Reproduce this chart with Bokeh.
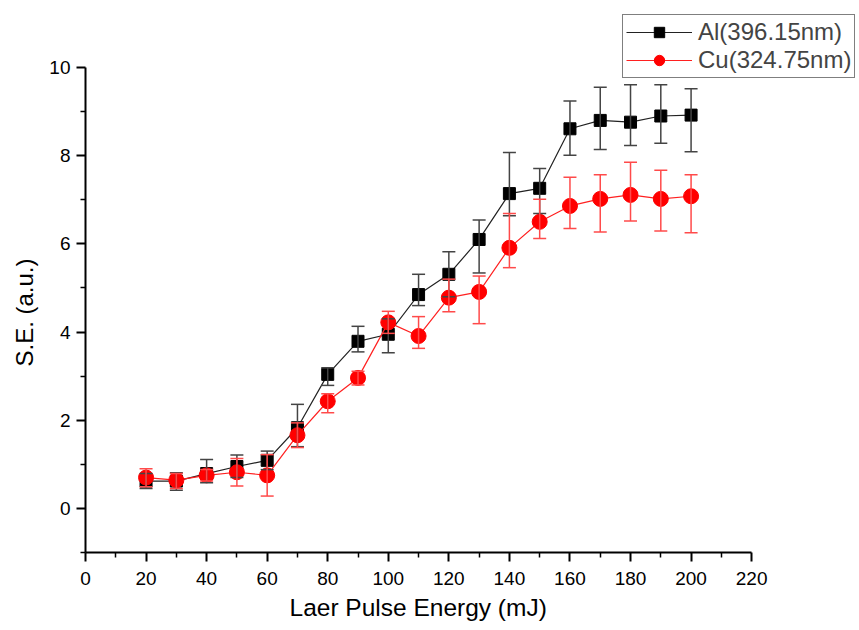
from bokeh.plotting import figure
from bokeh.models import (ColumnDataSource, Range1d, FixedTicker, Whisker, TeeHead,
                          Legend, LegendItem, Title)
from bokeh.embed import file_html
from bokeh.resources import INLINE

# ---- data ----
energy = [20, 30, 40, 50, 60, 70, 80, 90, 100, 110, 120, 130, 140, 150, 160, 170, 180, 190, 200]

al = [0.62, 0.62, 0.79, 0.95, 1.09, 1.83, 3.04, 3.79, 3.95, 4.85, 5.31, 6.10, 7.14, 7.26, 8.61, 8.80, 8.76, 8.90, 8.92]
al_hi = [0.79, 0.81, 1.11, 1.21, 1.30, 2.36, 3.19, 4.13, 4.30, 5.31, 5.82, 6.54, 8.07, 7.71, 9.24, 9.55, 9.61, 9.61, 9.52]
al_lo = [0.45, 0.41, 0.58, 0.70, 0.88, 1.40, 2.79, 3.55, 3.53, 4.60, 4.80, 5.34, 6.64, 6.69, 8.01, 8.14, 8.23, 8.28, 8.09]

cu = [0.70, 0.64, 0.75, 0.82, 0.75, 1.66, 2.43, 2.96, 4.22, 3.91, 4.78, 4.91, 5.91, 6.50, 6.86, 7.02, 7.11, 7.02, 7.08]
cu_hi = [0.90, 0.79, 0.88, 1.13, 1.22, 1.94, 2.60, 3.11, 4.47, 4.35, 5.20, 5.27, 6.69, 7.01, 7.51, 7.57, 7.85, 7.67, 7.57]
cu_lo = [0.49, 0.45, 0.62, 0.51, 0.28, 1.38, 2.17, 2.80, 3.97, 3.63, 4.46, 4.19, 5.46, 6.12, 6.35, 6.27, 6.52, 6.29, 6.25]

x_ticks = [0, 20, 40, 60, 80, 100, 120, 140, 160, 180, 200, 220]
x_minor = [10, 30, 50, 70, 90, 110, 130, 150, 170, 190, 210]
y_ticks = [0, 2, 4, 6, 8, 10]
y_minor = [-1, 1, 3, 5, 7, 9]
x_bounds = (0, 220)
y_bounds = (-1, 10)

labels = ["Al(396.15nm)", "Cu(324.75nm)"]
x_label = "Laer Pulse Energy (mJ)"
y_label = "S.E. (a.u.)"

FONT = "Liberation Sans"

src_al = ColumnDataSource(dict(x=energy, y=al, hi=al_hi, lo=al_lo))
src_cu = ColumnDataSource(dict(x=energy, y=cu, hi=cu_hi, lo=cu_lo))

# frame spans to the canvas top/right so the legend can overhang the axes area
W, H = 858, 629
left, bottom = 84, 77
xscale = 667 / 220.0
yscale = 485 / 11.0
x_end = (W - left) / xscale
y_end = -1 + (H - bottom) / yscale

p = figure(width=W, height=H, output_backend="svg", toolbar_location=None,
           x_range=Range1d(0, x_end), y_range=Range1d(-1, y_end),
           min_border_left=left, min_border_right=0, min_border_top=0, min_border_bottom=bottom)
p.outline_line_color = None
p.grid.visible = False
p.background_fill_color = "white"
p.border_fill_color = "white"

# error bars
for src, col in ((src_al, "#444444"), (src_cu, "#ff4a4a")):
    w = Whisker(source=src, base="x", upper="hi", lower="lo",
                line_color=col, line_width=1.5, level="glyph",
                upper_head=TeeHead(size=13, line_color=col, line_width=1.5),
                lower_head=TeeHead(size=13, line_color=col, line_width=1.5))
    p.add_layout(w)

l1 = p.line("x", "y", source=src_al, line_color="#222222", line_width=1.2)
m1 = p.scatter("x", "y", source=src_al, marker="square", size=12, fill_color="black", line_color="black")
l2 = p.line("x", "y", source=src_cu, line_color="#ff2020", line_width=1.2)
m2 = p.scatter("x", "y", source=src_cu, marker="circle", size=15, fill_color="#ff0000", line_color="#ff0000")

legend = Legend(items=[LegendItem(label=labels[0], renderers=[l1, m1]),
                       LegendItem(label=labels[1], renderers=[l2, m2])],
                location=(537, 474))
legend.label_text_font = FONT
legend.label_text_font_size = "24px"
legend.glyph_width = 66
legend.glyph_height = 26
legend.label_height = 26
legend.label_standoff = 6
legend.spacing = 0
legend.padding = 3
legend.margin = 0
legend.border_line_color = "black"
legend.border_line_width = 1.2
legend.background_fill_alpha = 1
p.add_layout(legend, "center")

# axes
xa = p.xaxis[0]
ya = p.yaxis[0]
xa.bounds = x_bounds
ya.bounds = y_bounds
xa.ticker = FixedTicker(ticks=x_ticks, minor_ticks=x_minor)
ya.ticker = FixedTicker(ticks=y_ticks, minor_ticks=y_minor)
for ax in (xa, ya):
    ax.axis_line_width = 2
    ax.axis_line_color = "black"
    ax.major_tick_line_width = 2
    ax.major_tick_line_color = "black"
    ax.minor_tick_line_width = 1.5
    ax.minor_tick_line_color = "black"
    ax.major_tick_out = 9
    ax.major_tick_in = 0
    ax.minor_tick_out = 5
    ax.minor_tick_in = 0
    ax.major_label_text_font = FONT
    ax.major_label_text_font_size = "19px"
    ax.major_label_text_color = "black"
xa.major_label_standoff = 10
ya.major_label_standoff = 6

# axis titles as side titles, positioned along the axis span
xt = Title(text=x_label, align="left", offset=204, standoff=9,
           text_font=FONT, text_font_size="24.5px", text_font_style="normal", text_color="black")
p.add_layout(xt, "below")
yt = Title(text=y_label, align="left", offset=186, standoff=17,
           text_font=FONT, text_font_size="24px", text_font_style="normal", text_color="black")
p.add_layout(yt, "left")

open("out.html", "w").write(file_html(p, INLINE))
